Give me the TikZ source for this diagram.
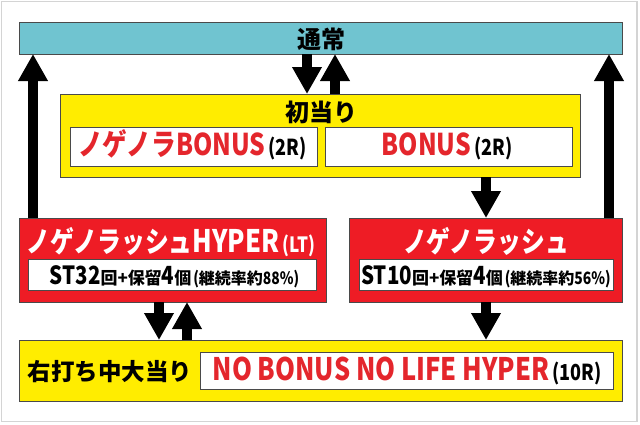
\documentclass[tikz,border=0pt]{standalone}
\usepackage{fontspec}
\usetikzlibrary{arrows.meta}
\newfontfamily\jp{Noto Sans CJK JP Black}
\newfontfamily\jpc{Noto Sans CJK JP Black}[FakeStretch=0.82]
\newfontfamily\lat{Noto Sans CJK JP Black}[FakeStretch=0.82]
\definecolor{tealbar}{HTML}{70C4D0}
\definecolor{yel}{HTML}{FFED00}
\definecolor{redbox}{HTML}{EE1C25}
\definecolor{redtxt}{HTML}{E4262C}
\definecolor{bord}{HTML}{4A4A4A}
\definecolor{framec}{HTML}{D4D4D4}
\newcommand\fs[1]{\fontsize{#1}{#1}\selectfont}
\begin{document}
\begin{tikzpicture}[x=1pt,y=-1pt,
  box/.style={draw=bord,line width=1pt,inner sep=0pt,outer sep=0pt,rectangle},
  bigarrow/.style={line width=10pt,black,-{Triangle[width=28pt,length=27pt]}},
  lbl/.style={inner sep=0pt,outer sep=0pt,anchor=base,font=\jp}]
\useasboundingbox (0,0) rectangle (640,424);
\draw[framec,line width=1.2pt] (1.5,1.5) rectangle (637,421.5);

% boxes
\node[box,fill=tealbar,minimum width=603pt,minimum height=32pt] (tsujo) at (321,38) {};
\node[box,fill=yel,minimum width=520pt,minimum height=83pt] (hatsu) at (320,135.5) {};
\node[box,fill=white,minimum width=246.5pt,minimum height=39pt] (hb1) at (193.75,146.5) {};
\node[box,fill=white,minimum width=247.5pt,minimum height=39pt] (hb2) at (448.75,146.5) {};
\node[box,fill=redbox,minimum width=306.5pt,minimum height=84pt] (redL) at (172.75,260) {};
\node[box,fill=redbox,minimum width=273.5pt,minimum height=84pt] (redR) at (485.75,260) {};
\node[box,fill=white,minimum width=288pt,minimum height=31pt] (wL) at (172.5,275) {};
\node[box,fill=white,minimum width=254pt,minimum height=31pt] (wR) at (486,275) {};
\node[box,fill=yel,minimum width=603pt,minimum height=61pt] (bot) at (321,370.5) {};
\node[box,fill=white,minimum width=412.5pt,minimum height=37pt] (bw) at (406.75,370.5) {};

% labels
\node[lbl,font=\jp\fs{24}] (t1) at (321,48) {通常};
\node[lbl,font=\jp\fs{24}] (t2) at (321,121) {初当り};
\node[lbl] (t3) at (192.5,155) {{\color{redtxt}{\jpc\fs{30}ノゲノラ}{\lat\fs{30}BONUS}}\hspace{3pt}{\lat\fs{22}(2R)}};
\node[lbl] (t4) at (447,155) {{\color{redtxt}\lat\fs{30}BONUS}\hspace{3pt}{\lat\fs{22}(2R)}};
\node[lbl,text=white] (t5) at (171,252) {{\jpc\fs{29}ノゲノラッシュ}{\lat\fs{31}HYPER}\hspace{3pt}{\lat\fs{21}(LT)}};
\node[lbl,text=white] (t6) at (486,252) {{\jpc\fs{29}ノゲノラッシュ}};
\node[lbl] (t7) at (174.5,284) {{\lat\fs{25}ST32}{\fs{17}回+保留}{\lat\fs{25}4}{\fs{17}個}\hspace{2pt}{\lat\fs{17}(}{\fs{16}継続率約}{\lat\fs{17}88\%)}};
\node[lbl] (t8) at (486,284) {{\lat\fs{25}ST10}{\fs{17}回+保留}{\lat\fs{25}4}{\fs{17}個}\hspace{2pt}{\lat\fs{17}(}{\fs{16}継続率約}{\lat\fs{17}56\%)}};
\node[lbl,font=\jp\fs{23.5}] (t9) at (110,380) {右打ち中大当り};
\node[lbl] (t10) at (407,380) {{\color{redtxt}\lat\fs{31}NO BONUS NO LIFE HYPER}\hspace{3pt}{\lat\fs{22}(10R)}};

% arrow columns
\coordinate (cA) at (33,0);
\coordinate (cB) at (609,0);
\coordinate (cC) at (307,0);
\coordinate (cD) at (335,0);
\coordinate (cE) at (486,0);
\coordinate (cF) at (159,0);
\coordinate (cG) at (187,0);

\draw[bigarrow] (redL.north -| cA) -- (tsujo.south -| cA);
\draw[bigarrow] (redR.north -| cB) -- (tsujo.south -| cB);
\draw[bigarrow] (tsujo.south -| cC) -- (hatsu.north -| cC);
\draw[bigarrow] (hatsu.north -| cD) -- (tsujo.south -| cD);
\draw[bigarrow] (hatsu.south -| cE) -- (redR.north -| cE);
\draw[bigarrow] (redL.south -| cF) -- (bot.north -| cF);
\draw[bigarrow] (bot.north -| cG) -- (redL.south -| cG);
\draw[bigarrow] (redR.south -| cE) -- (bot.north -| cE);
\end{tikzpicture}
\end{document}
